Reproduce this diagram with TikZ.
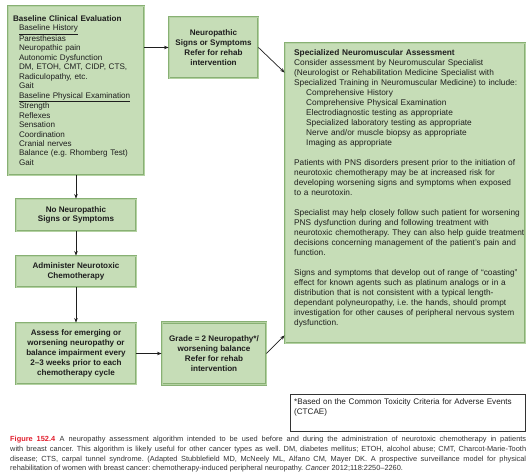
\documentclass[tikz,border=0pt]{standalone}
\usepackage{fontspec}
\setmainfont{Liberation Sans}
\usetikzlibrary{arrows.meta}
\definecolor{boxfill}{RGB}{198,221,183}
\definecolor{boxedge}{RGB}{136,176,116}
\definecolor{boxlight}{RGB}{180,210,162}
\definecolor{txt}{RGB}{30,30,30}
\definecolor{figred}{RGB}{225,30,45}
\tikzset{
  gbox/.style={draw=boxedge, line width=0.9pt, double=boxlight, double distance=0.8pt, fill=boxfill, text=txt, inner sep=0pt},
  boldbox/.style={gbox, align=center, font=\fontsize{8.1}{9.8}\selectfont\bfseries},
  arr/.style={draw=txt, line width=0.7pt, -{Stealth[length=4.5pt,width=3.5pt]}},
}
\begin{document}
\frenchspacing
\begin{tikzpicture}[x=1pt,y=-1pt]
\useasboundingbox (0,0) rectangle (530,473);
% Baseline box
\node[gbox, minimum width=136pt, minimum height=169pt, text width=126pt, align=left,
      font=\fontsize{8.1}{9.45}\selectfont] (base) at (76,90.5)
{\textbf{Baseline Clinical Evaluation}\\
\hspace*{6pt}\underline{Baseline History}\\
\hspace*{6pt}Paresthesias\\
\hspace*{6pt}Neuropathic pain\\
\hspace*{6pt}Autonomic Dysfunction\\
\hspace*{6pt}DM, ETOH, CMT, CIDP, CTS,\\
\hspace*{6pt}Radiculopathy, etc.\\
\hspace*{6pt}Gait\\
\hspace*{6pt}\underline{Baseline Physical Examination}\\
\hspace*{6pt}Strength\\
\hspace*{6pt}Reflexes\\
\hspace*{6pt}Sensation\\
\hspace*{6pt}Coordination\\
\hspace*{6pt}Cranial nerves\\
\hspace*{6pt}Balance (e.g. Rhomberg Test)\\
\hspace*{6pt}Gait};
% Neuropathic box
\node[boldbox, minimum width=89pt, minimum height=61pt] (neuro) at (213.5,47.5)
{Neuropathic\\Signs or Symptoms\\Refer for rehab\\intervention};
% Left column
\node[boldbox, minimum width=120pt, minimum height=32pt] (nosign) at (76,215)
{No Neuropathic\\Signs or Symptoms};
\node[boldbox, minimum width=120pt, minimum height=31pt] (admin) at (76,271.5)
{Administer Neurotoxic\\Chemotherapy};
\node[boldbox, minimum width=120pt, minimum height=61pt] (assess) at (76,353.5)
{Assess for emerging or\\worsening neuropathy or\\balance impairment every\\2--3 weeks prior to each\\chemotherapy cycle};
\node[boldbox, minimum width=104pt, minimum height=62pt] (grade) at (214,353.5)
{Grade = 2 Neuropathy*/\\worsening balance\\Refer for rehab\\intervention};
% Specialized box
\node[gbox, minimum width=240pt, minimum height=300pt] (spec) at (405,193) {};
\node[anchor=north west, inner sep=0pt, text width=236pt, align=left, text=txt,
      font=\fontsize{8.3}{10}\selectfont] (spectext) at (294,49)
{\textbf{Specialized Neuromuscular Assessment}\\
Consider assessment by Neuromuscular Specialist\\
(Neurologist or Rehabilitation Medicine Specialist with\\
Specialized Training in Neuromuscular Medicine) to include:\\
\hspace*{12pt}Comprehensive History\\
\hspace*{12pt}Comprehensive Physical Examination\\
\hspace*{12pt}Electrodiagnostic testing as appropriate\\
\hspace*{12pt}Specialized laboratory testing as appropriate\\
\hspace*{12pt}Nerve and/or muscle biopsy as appropriate\\
\hspace*{12pt}Imaging as appropriate\\[10pt]
Patients with PNS disorders present prior to the initiation of\\
neurotoxic chemotherapy may be at increased risk for\\
developing worsening signs and symptoms when exposed\\
to a neurotoxin.\\[10pt]
Specialist may help closely follow such patient for worsening\\
PNS dysfunction during and following treatment with\\
neurotoxic chemotherapy. They can also help guide treatment\\
decisions concerning management of the patient’s pain and\\
function.\\[10pt]
Signs and symptoms that develop out of range of “coasting”\\
effect for known agents such as platinum analogs or in a\\
distribution that is not consistent with a typical length-\\
dependant polyneuropathy, i.e. the hands, should prompt\\
investigation for other causes of peripheral nervous system\\
dysfunction.};
% Footnote box
\node[draw=black!80, line width=0.9pt, fill=white, minimum width=235pt, minimum height=37pt,
      inner sep=0pt] (foot) at (407.5,412.5) {};
\node[anchor=north west, inner sep=0pt, text width=228pt, align=left, text=txt,
      font=\fontsize{8.1}{10.5}\selectfont] (foottext) at (294,398)
{*Based on the Common Toxicity Criteria for Adverse Events\\(CTCAE)};
% Caption
\node[anchor=north west, inner sep=0pt, text width=516pt, align=justify, text=black!80,
      font=\fontsize{7.4}{9.8}\selectfont] (caption) at (10,436)
{\hyphenpenalty=10000\textcolor{figred}{\textbf{Figure 152.4}}\hspace{0.6em}A neuropathy assessment algorithm intended to be used before and during the administration of neurotoxic chemotherapy in patients\linebreak
with breast cancer. This algorithm is likely useful for other cancer types as well. DM, diabetes mellitus; ETOH, alcohol abuse; CMT, Charcot-Marie-Tooth\linebreak
disease; CTS, carpal tunnel syndrome. (Adapted Stubblefield MD, McNeely ML, Alfano CM, Mayer DK. A prospective surveillance model for physical\linebreak
rehabilitation of women with breast cancer: chemotherapy-induced peripheral neuropathy. \textit{Cancer} 2012;118:2250--2260.};
% Connectors
\draw[arr] (base.east |- neuro.west) -- (neuro.west);
\draw[arr] (neuro.east) -- ([yshift=-30pt]spec.north west);
\draw[arr] (base.south) -- (nosign.north);
\draw[arr] (nosign.south) -- (admin.north);
\draw[arr] (admin.south) -- (assess.north);
\draw[arr] (assess.east) -- (grade.west);
\draw[arr] (grade.east) -- ([yshift=8pt]spec.south west);
\end{tikzpicture}
\end{document}
